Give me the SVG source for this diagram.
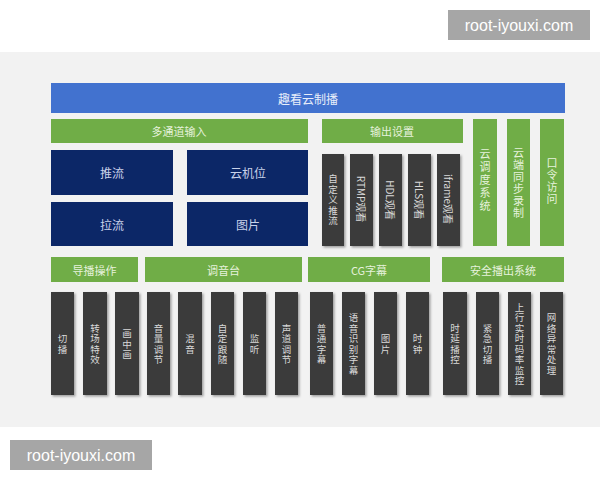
<svg xmlns="http://www.w3.org/2000/svg" width="600" height="480" viewBox="0 0 600 480">
<defs>
<filter id="sh" x="-20%" y="-10%" width="150%" height="130%">
<feDropShadow dx="1.5" dy="1.5" stdDeviation="1" flood-color="#000" flood-opacity="0.35"/>
</filter>
</defs>
<style>
.g{fill:#70ad47}
.n{fill:#0c2767}
.d{fill:#3a3a3a;filter:url(#sh)}
.t{font-family:"Noto Sans CJK SC","Noto Sans",sans-serif;text-anchor:middle;dominant-baseline:central}
.tg{fill:#e6f2dc;font-size:11px}
.tn{fill:#c9d2ea;font-size:12px}
.td{fill:#d9d9d9;font-size:9.5px;letter-spacing:1px}
.tr{fill:#d9d9d9;font-size:10px}
.v{writing-mode:vertical-rl;text-orientation:upright}
.wm{font-family:"Liberation Sans","DejaVu Sans",sans-serif;font-size:16px;fill:#ffffff;text-anchor:middle;dominant-baseline:central}
</style>
<rect x="0" y="0" width="600" height="480" fill="#ffffff"/>
<rect x="0" y="52" width="600" height="375" fill="#f2f2f2"/>

<g id="title">
<rect x="51" y="83" width="514" height="30" fill="#4272cf"/>
<text class="t" x="308" y="98" font-size="12" fill="#e8eefa">趣看云制播</text>
</g>

<g id="input">
<rect class="g" x="51" y="119" width="257" height="24"/>
<text class="t tg" x="179" y="131">多通道输入</text>
</g>
<g id="push"><rect class="n" x="51" y="150" width="122" height="45"/><text class="t tn" x="112" y="172">推流</text></g>
<g id="cam"><rect class="n" x="187" y="150" width="121" height="45"/><text class="t tn" x="248" y="172">云机位</text></g>
<g id="pull"><rect class="n" x="51" y="202" width="122" height="44"/><text class="t tn" x="112" y="224">拉流</text></g>
<g id="pic"><rect class="n" x="187" y="202" width="121" height="44"/><text class="t tn" x="248" y="224">图片</text></g>

<g id="output">
<rect class="g" x="322" y="119" width="141" height="24"/>
<text class="t tg" x="392" y="131">输出设置</text>
</g>
<g id="o1"><rect class="d" x="322" y="154" width="22" height="92"/><text class="t td v" x="333" y="200">自定义推流</text></g>
<g id="o2"><rect class="d" x="350" y="154" width="23" height="92"/><text class="t tr" transform="translate(361.5,199) rotate(90)">RTMP观看</text></g>
<g id="o3"><rect class="d" x="379" y="154" width="23" height="92"/><text class="t tr" transform="translate(390.5,200) rotate(90)">HDL观看</text></g>
<g id="o4"><rect class="d" x="408" y="154" width="23" height="92"/><text class="t tr" transform="translate(419.5,200) rotate(90)">HLS观看</text></g>
<g id="o5"><rect class="d" x="437" y="154" width="23" height="92"/><text class="t tr" transform="translate(448.5,199) rotate(90)">iframe观看</text></g>

<g id="sched"><rect class="g" x="473" y="119" width="24" height="127"/><text class="t tg v" x="485" y="181" letter-spacing="2">云调度系统</text></g>
<g id="sync"><rect class="g" x="507" y="119" width="23" height="127"/><text class="t tg v" x="518.5" y="183.5" letter-spacing="1">云端同步录制</text></g>
<g id="token"><rect class="g" x="540" y="119" width="24" height="127"/><text class="t tg v" x="552" y="181.5" letter-spacing="1">口令访问</text></g>

<g id="director"><rect class="g" x="51" y="257" width="87" height="25"/><text class="t tg" x="94.5" y="269.5">导播操作</text></g>
<g id="mixer"><rect class="g" x="145" y="257" width="157" height="25"/><text class="t tg" x="223.5" y="269.5">调音台</text></g>
<g id="cg"><rect class="g" x="308" y="257" width="122" height="25"/><text class="t tg" x="369" y="269.5">CG字幕</text></g>
<g id="safe"><rect class="g" x="442" y="257" width="122" height="25"/><text class="t tg" x="503" y="269.5">安全播出系统</text></g>

<g id="b1"><rect class="d" x="51" y="292" width="23" height="103"/><text class="t td v" x="62.5" y="344.5">切播</text></g>
<g id="b2"><rect class="d" x="83" y="292" width="24" height="103"/><text class="t td v" x="95" y="344.5">转场特效</text></g>
<g id="b3"><rect class="d" x="115" y="292" width="24" height="103"/><text class="t td v" x="127" y="344.5">画中画</text></g>
<g id="b4"><rect class="d" x="147" y="292" width="23" height="103"/><text class="t td v" x="158.5" y="344.5">音量调节</text></g>
<g id="b5"><rect class="d" x="178" y="292" width="24" height="103"/><text class="t td v" x="190" y="344.5">混音</text></g>
<g id="b6"><rect class="d" x="211" y="292" width="23" height="103"/><text class="t td v" x="222.5" y="344.5">自定跟随</text></g>
<g id="b7"><rect class="d" x="243" y="292" width="23" height="103"/><text class="t td v" x="254.5" y="344.5">监听</text></g>
<g id="b8"><rect class="d" x="275" y="292" width="23" height="103"/><text class="t td v" x="286.5" y="344.5">声道调节</text></g>
<g id="b9"><rect class="d" x="310" y="292" width="23" height="103"/><text class="t td v" x="321.5" y="344.5">普通字幕</text></g>
<g id="b10"><rect class="d" x="342" y="292" width="23" height="103"/><text class="t td v" x="353.5" y="344.5">语音识别字幕</text></g>
<g id="b11"><rect class="d" x="374" y="292" width="23" height="103"/><text class="t td v" x="385.5" y="344.5">图片</text></g>
<g id="b12"><rect class="d" x="406" y="292" width="23" height="103"/><text class="t td v" x="417.5" y="344.5">时钟</text></g>
<g id="b13"><rect class="d" x="443" y="292" width="24" height="103"/><text class="t td v" x="455" y="344.5">时延播控</text></g>
<g id="b14"><rect class="d" x="476" y="292" width="23" height="103"/><text class="t td v" x="487.5" y="344.5">紧急切播</text></g>
<g id="b15"><rect class="d" x="508" y="292" width="23" height="103"/><text class="t td v" x="519.5" y="344.5">上行实时码率监控</text></g>
<g id="b16"><rect class="d" x="540" y="292" width="23" height="103"/><text class="t td v" x="551.5" y="344.5">网络异常处理</text></g>

<g id="connectors"></g>

<g id="wm1"><rect x="448" y="10" width="142" height="30" fill="#a6a6a6"/><text class="wm" x="519" y="25">root-iyouxi.com</text></g>
<g id="wm2"><rect x="10" y="440" width="142" height="30" fill="#a6a6a6"/><text class="wm" x="81" y="455">root-iyouxi.com</text></g>
</svg>
